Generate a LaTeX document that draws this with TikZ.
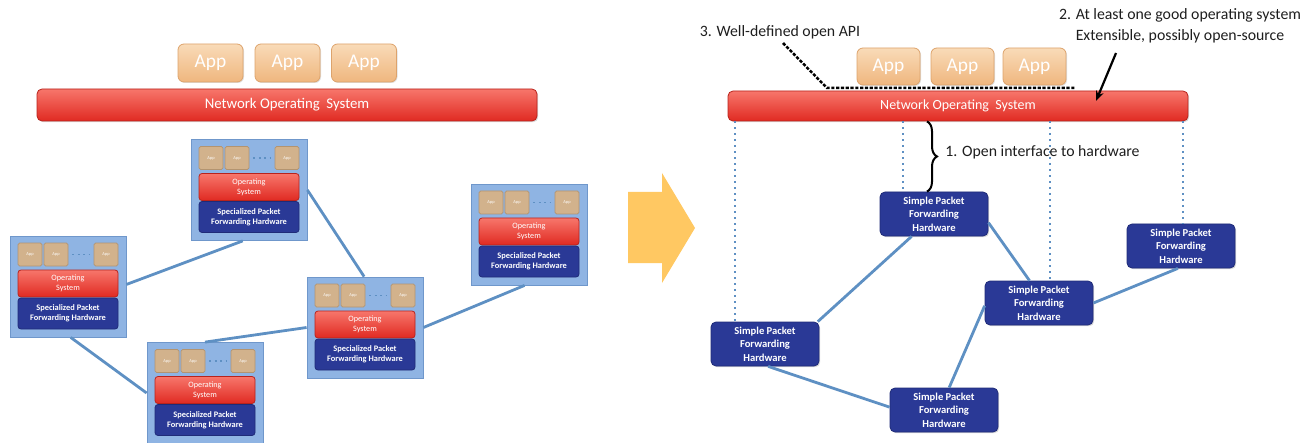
\documentclass[tikz,border=0pt]{standalone}
\usepackage{fontspec}
\setmainfont{Carlito}
\usetikzlibrary{decorations.pathreplacing, shadows, arrows.meta}

\definecolor{apptop}{HTML}{F9DBB8}
\definecolor{appfill}{HTML}{EFB67E}
\definecolor{appedge}{HTML}{DDA36C}
\definecolor{nostop}{HTML}{F7766B}
\definecolor{nosred}{HTML}{E02A22}
\definecolor{nosedge}{HTML}{B8231C}
\definecolor{swbg}{HTML}{8FB4E3}
\definecolor{swedge}{HTML}{6F97CB}
\definecolor{smallapp}{HTML}{D2B28C}
\definecolor{smallappedge}{HTML}{B39470}
\definecolor{hwblue}{HTML}{2A3996}
\definecolor{hwedge}{HTML}{1F2B78}
\definecolor{linkblue}{HTML}{5E90C3}
\definecolor{arrowyel}{HTML}{FFC862}
\definecolor{lbltext}{HTML}{1E1E1E}

\begin{document}
\begin{tikzpicture}[x=0.5pt, y=-0.5pt,
    app/.style={draw=appedge, rounded corners=3pt, top color=apptop, bottom color=appfill,
      minimum width=32.5pt, minimum height=19pt, inner sep=0pt, text=white,
      font=\fontsize{9.7}{11}\selectfont, drop shadow={opacity=0.25, shadow xshift=0.5pt, shadow yshift=-0.5pt}},
    nos/.style={draw=nosedge, rounded corners=2.5pt, top color=nostop, bottom color=nosred,
      minimum height=16pt, inner sep=0pt, text=white, font=\fontsize{7.4}{9}\selectfont,
      drop shadow={opacity=0.3, shadow xshift=0.6pt, shadow yshift=-0.6pt}},
    swbox/.style={fill=swbg, draw=swedge, minimum width=58pt, minimum height=50.5pt, inner sep=0pt},
    swapp/.style={fill=smallapp, draw=smallappedge, rounded corners=0.8pt, minimum width=12pt,
      minimum height=11.5pt, inner sep=0pt, text=white, font=\fontsize{2.2}{2.6}\selectfont},
    osbox/.style={draw=nosedge, rounded corners=1.5pt, top color=nostop, bottom color=nosred,
      minimum width=50pt, minimum height=13.5pt, inner sep=0pt, text=white, align=center,
      font=\fontsize{4.1}{5}\selectfont},
    hwbox/.style={fill=hwblue, draw=hwedge, rounded corners=1.5pt, minimum width=50pt,
      minimum height=15.5pt, inner sep=0pt, text=white, align=center,
      font=\bfseries\fontsize{4.2}{5.2}\selectfont},
    sph/.style={fill=hwblue, draw=hwedge, rounded corners=2.5pt, minimum width=54pt,
      minimum height=22pt, inner sep=0pt, text=white, align=center,
      font=\bfseries\fontsize{5.3}{6.8}\selectfont,
      drop shadow={opacity=0.3, shadow xshift=0.6pt, shadow yshift=-0.6pt}},
    link/.style={draw=linkblue, line width=1.4pt},
    vline/.style={draw=linkblue, line width=0.9pt, dash pattern=on 0.9pt off 2.1pt},
    lbl/.style={text=lbltext, inner sep=0pt, font=\fontsize{7.9}{10.5}\selectfont},
  ]
  \useasboundingbox (0,0) rectangle (1310,443);

  % Left: apps and network OS
  \node[app] (lapp1) at (210.5,63) {App};
  \node[app] (lapp2) at (287.5,63) {App};
  \node[app] (lapp3) at (364,63) {App};
  \node[nos, minimum width=250pt] (nosL) at (287,105) {Network Operating~ System};

  % Left: switches
  \foreach \n/\x/\y in {1/249/190, 2/68/286.5, 3/365/327.5, 4/529/234.5, 5/205/393}{
    \node[swbox] (sw\n) at (\x,\y) {};
    \node[swapp] (app\n-a) at ({\x-38},{\y-32}) {App};
    \node[swapp] (app\n-b) at ({\x-12},{\y-32}) {App};
    \node[swapp] (app\n-c) at ({\x+38},{\y-32}) {App};
    \draw[linkblue, line width=0.9pt, dash pattern=on 0.9pt off 1.8pt, shorten <=2pt, shorten >=2pt]
      (app\n-b.east) -- (app\n-c.west);
    \node[osbox] (os\n) at (\x,{\y-3}) {Operating\\System};
    \node[hwbox] (hw\n) at (\x,{\y+27}) {Specialized Packet\\Forwarding Hardware};
  }
  \draw[link] (sw1.263) -- (sw2.2);
  \draw[link] (sw1.east) -- (sw3.91);
  \draw[link] (sw2.273) -- (sw5.west);
  \draw[link] (sw5.north) -- (sw3.west);
  \draw[link] (sw3.east) -- (sw4.265);

  % Big arrow
  \fill[arrowyel] (628,192) -- (662,192) -- (662,173) -- (695,228) -- (662,283)
    -- (662,263) -- (628,263) -- cycle;

  % Right: apps and network OS
  \node[app, minimum width=31.5pt, minimum height=18.5pt] (rapp1) at (888.5,66.5) {App};
  \node[app, minimum width=31.5pt, minimum height=18.5pt] (rapp2) at (962.5,66.5) {App};
  \node[app, minimum width=31.5pt, minimum height=18.5pt] (rapp3) at (1034.5,66.5) {App};
  \node[nos, minimum width=230pt, minimum height=15pt, font=\fontsize{7}{9}\selectfont] (nosR) at (958,106)
    {Network Operating~ System};

  % Right: simple switches
  \node[sph] (hwA) at (934,214) {Simple Packet\\Forwarding\\Hardware};
  \node[sph] (hwB) at (1181,246) {Simple Packet\\Forwarding\\Hardware};
  \node[sph] (hwC) at (1039,303) {Simple Packet\\Forwarding\\Hardware};
  \node[sph] (hwD) at (765,344) {Simple Packet\\Forwarding\\Hardware};
  \node[sph] (hwE) at (944,410) {Simple Packet\\Forwarding\\Hardware};
  \draw[link] (hwA.225) -- (hwD.23);
  \draw[link] (hwA.-9) -- (hwC.113);
  \draw[link] (hwC.east) -- (hwB.262);
  \draw[link] (hwC.183) -- (hwE.77);
  \draw[link] (hwD.278) -- (hwE.177);
  \foreach \vx/\nd in {735/hwD, 903/hwA, 1050/hwC, 1183/hwB}
    \draw[vline] (\vx,0 |- nosR.south) -- (\vx,0 |- \nd.north);

  % Labels
  \draw[decorate, decoration={brace, amplitude=5pt}, line width=1pt]
    (927,0 |- nosR.south) -- (927,0 |- hwA.north);
  \node[lbl, anchor=west] (ifLbl) at (945,152) {1. Open interface to hardware};
  \node[lbl, align=center] (osLbl) at (1180,25.5)
    {2. At least one good operating system\\Extensible, possibly open-source};
  \node[lbl] (api) at (780,32) {3. Well-defined open API};
  \coordinate (apiStart) at (783,43);
  \coordinate (apiBend) at (827,88);
  \coordinate (apiEnd) at (1076,88);
  \draw[line width=1.25pt, dash pattern=on 1.6pt off 0.8pt] (apiStart) -- (apiBend) -- (apiEnd);
  \coordinate (osTail) at (1116,53);
  \coordinate (osTip) at (1096,101);
  \draw[line width=1.1pt, -{Stealth[length=5pt, width=4pt]}] (osTail) -- (osTip);
\end{tikzpicture}
\end{document}
